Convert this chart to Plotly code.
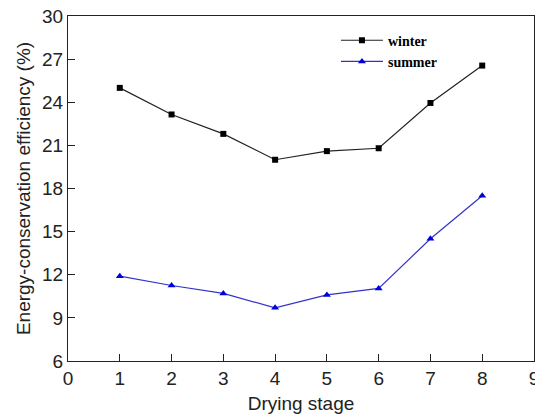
import plotly.graph_objects as go

stages = [1, 2, 3, 4, 5, 6, 7, 8]
winter = [25.0, 23.15, 21.8, 20.0, 20.6, 20.8, 23.95, 26.55]
summer = [11.9, 11.25, 10.7, 9.7, 10.6, 11.05, 14.5, 17.5]
x_ticks = [0, 1, 2, 3, 4, 5, 6, 7, 8, 9]
y_ticks = [6, 9, 12, 15, 18, 21, 24, 27, 30]

fig = go.Figure()
fig.add_trace(go.Scatter(x=stages, y=winter, mode="lines+markers", name="winter",
                         line=dict(color="#222222", width=1.2),
                         marker=dict(symbol="square", size=6, color="black")))
fig.add_trace(go.Scatter(x=stages, y=summer, mode="lines+markers", name="summer",
                         line=dict(color="#3333cc", width=1.2),
                         marker=dict(symbol="triangle-up", size=7, color="#0000dd")))

axis_font = dict(family="Liberation Sans, Arial, sans-serif", size=19, color="#222")
fig.update_layout(
    width=535, height=416,
    margin=dict(l=68, r=1, t=16, b=55, autoexpand=False),
    plot_bgcolor="white", paper_bgcolor="white",
    showlegend=True,
    legend=dict(x=0.575, y=0.975, xanchor="left", yanchor="top",
                bgcolor="rgba(0,0,0,0)",
                font=dict(family="Liberation Serif, Times New Roman, serif", size=14, color="black", weight="bold"),
                tracegroupgap=0, itemwidth=42),
    xaxis=dict(range=[0, 9], tickvals=x_ticks, ticks="inside", ticklen=7,
               tickcolor="#222", showline=True, linecolor="#222", linewidth=1.2,
               mirror=True, showgrid=False, zeroline=False, tickfont=axis_font,
               ticklabeloverflow="allow", automargin=False,
               title=dict(text="Drying stage", font=axis_font, standoff=8)),
    yaxis=dict(range=[6, 30], tickvals=y_ticks, ticks="inside", ticklen=7,
               tickcolor="#222", showline=True, linecolor="#222", linewidth=1.2,
               mirror=True, showgrid=False, zeroline=False, tickfont=axis_font,
               ticklabeloverflow="allow", automargin=False,
               title=dict(text="Energy-conservation efficiency (%)", font=axis_font, standoff=6)),
)
fig.write_html("out.html")
